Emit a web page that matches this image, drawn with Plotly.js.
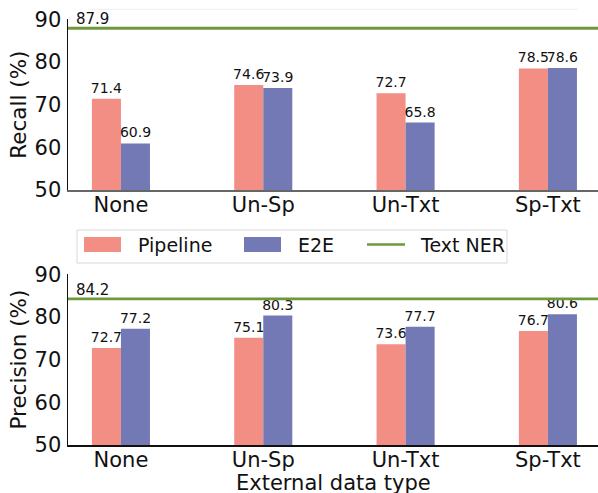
<!DOCTYPE html>
<html>
<head>
<meta charset="utf-8">
<script src="https://cdn.plot.ly/plotly-3.0.1.min.js"></script>
<style>html,body{margin:0;padding:0;background:#fff;}#chart{width:598px;height:493px;}</style>
</head>
<body>
<div id="chart"></div>
<script>
const categories = ['None', 'Un-Sp', 'Un-Txt', 'Sp-Txt'];
const recallPipeline = [71.4, 74.6, 72.7, 78.5];
const recallE2E = [60.9, 73.9, 65.8, 78.6];
const precisionPipeline = [72.7, 75.1, 73.6, 76.7];
const precisionE2E = [77.2, 80.3, 77.7, 80.6];
const textNERRecall = [87.9];
const textNERPrecision = [84.2];
const seriesNames = ['Pipeline', 'E2E', 'Text NER'];
const xTitle = 'External data type';

const W = 598, H = 493, ML = 68, MR = 0;
const colPipe = '#F28E84', colE2E = '#7379B5', colNER = '#6F983D';
const FONT = 'DejaVu Sans, sans-serif';
const px2x = p => (p - ML) / (W - ML - MR);
const px2y = p => 1 - p / H;

function bar(x, y, name, color, xa, ya) {
  return {
    type: 'bar', x: x, y: y, name: name, xaxis: xa, yaxis: ya,
    marker: {color: color, line: {width: 0}},
    texttemplate: '%{y:.1f}', textposition: 'outside', constraintext: 'none',
    cliponaxis: false, outsidetextfont: {family: FONT, size: 14, color: '#111'},
    showlegend: false, hoverinfo: 'skip'
  };
}

const data = [
  bar(categories, recallPipeline, seriesNames[0], colPipe, 'x', 'y'),
  bar(categories, recallE2E, seriesNames[1], colE2E, 'x', 'y'),
  bar(categories, precisionPipeline, seriesNames[0], colPipe, 'x2', 'y2'),
  bar(categories, precisionE2E, seriesNames[1], colE2E, 'x2', 'y2')
];

const xRange = [-0.372, 3.352];
const axX = (lc) => ({
  type: 'category', categoryarray: categories, range: xRange,
  showline: true, linecolor: lc, linewidth: 1.5, ticks: '', showgrid: false,
  zeroline: false, tickfont: {family: FONT, size: 21, color: '#111'}, ticklabelstandoff: -5
});
const axY = (dom, title) => ({
  domain: dom, range: [50, 90], dtick: 10, showline: true, linecolor: '#111', linewidth: 1.5,
  ticks: '', showgrid: false, zeroline: false, ticklabelstandoff: 1,
  tickfont: {family: FONT, size: 21, color: '#111'},
  title: {text: title, font: {family: FONT, size: 21.5, color: '#111'}, standoff: 2}
});

const layout = {
  width: W, height: H,
  margin: {l: ML, r: MR, t: 0, b: 0},
  paper_bgcolor: '#fff', plot_bgcolor: '#fff',
  barmode: 'group', bargap: 0.592, bargroupgap: 0,
  showlegend: false,
  font: {family: FONT, color: '#111'},
  xaxis: Object.assign(axX('#666'), {anchor: 'y'}),
  yaxis: Object.assign(axY([px2y(190), px2y(19.3)], 'Recall (%)'), {anchor: 'x'}),
  xaxis2: Object.assign(axX('#111'), {anchor: 'y2'}),
  yaxis2: Object.assign(axY([px2y(445), px2y(274.2)], 'Precision (%)'), {anchor: 'x2'}),
  shapes: [
    {type: 'line', xref: 'x domain', yref: 'y', x0: 0, x1: 1, y0: textNERRecall[0], y1: textNERRecall[0],
     line: {color: colNER, width: 2.8}},
    {type: 'line', xref: 'x2 domain', yref: 'y2', x0: 0, x1: 1, y0: textNERPrecision[0], y1: textNERPrecision[0],
     line: {color: colNER, width: 2.8}},
    {type: 'line', xref: 'paper', yref: 'paper', x0: px2x(90), x1: px2x(578), y0: px2y(9.3), y1: px2y(9.3),
     line: {color: '#efefef', width: 1}},
    // legend box
    {type: 'rect', xref: 'paper', yref: 'paper', x0: px2x(77), x1: px2x(507), y0: px2y(230), y1: px2y(263),
     line: {color: '#d8d8d8', width: 1}, fillcolor: 'rgba(255,255,255,0.8)'},
    {type: 'rect', xref: 'paper', yref: 'paper', x0: px2x(84), x1: px2x(121), y0: px2y(237), y1: px2y(252),
     line: {width: 0}, fillcolor: colPipe},
    {type: 'rect', xref: 'paper', yref: 'paper', x0: px2x(244), x1: px2x(281), y0: px2y(237), y1: px2y(252),
     line: {width: 0}, fillcolor: colE2E},
    {type: 'line', xref: 'paper', yref: 'paper', x0: px2x(367), x1: px2x(405), y0: px2y(244.5), y1: px2y(244.5),
     line: {color: colNER, width: 2.5}}
  ],
  annotations: [
    {xref: 'x domain', yref: 'y', x: 0, y: textNERRecall[0], xanchor: 'left', yanchor: 'bottom',
     xshift: 6, yshift: -2, text: textNERRecall[0].toFixed(1), showarrow: false,
     font: {family: FONT, size: 15, color: '#111'}},
    {xref: 'x2 domain', yref: 'y2', x: 0, y: textNERPrecision[0], xanchor: 'left', yanchor: 'bottom',
     xshift: 6, yshift: -2, text: textNERPrecision[0].toFixed(1), showarrow: false,
     font: {family: FONT, size: 15, color: '#111'}},
    {xref: 'paper', yref: 'paper', x: 0.5, y: px2y(483), xanchor: 'center', yanchor: 'middle',
     text: xTitle, showarrow: false, font: {family: FONT, size: 21, color: '#111'}},
    {xref: 'paper', yref: 'paper', x: px2x(136), y: px2y(244.5), xanchor: 'left', yanchor: 'middle',
     text: seriesNames[0], showarrow: false, font: {family: FONT, size: 19, color: '#111'}},
    {xref: 'paper', yref: 'paper', x: px2x(296), y: px2y(244.5), xanchor: 'left', yanchor: 'middle',
     text: seriesNames[1], showarrow: false, font: {family: FONT, size: 19, color: '#111'}},
    {xref: 'paper', yref: 'paper', x: px2x(418), y: px2y(244.5), xanchor: 'left', yanchor: 'middle',
     text: seriesNames[2], showarrow: false, font: {family: FONT, size: 19, color: '#111'}}
  ]
};

Plotly.newPlot('chart', data, layout, {staticPlot: true, displayModeBar: false});
</script>
</body>
</html>
